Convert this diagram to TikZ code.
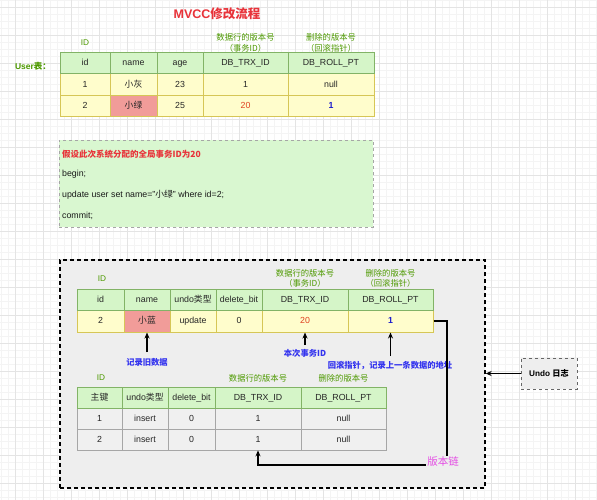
\documentclass[tikz,border=0pt]{standalone}
\usepackage{fontspec}
\setmainfont{Liberation Sans}
\newfontfamily\cjk{Noto Sans CJK SC}
\usetikzlibrary{arrows.meta}
\definecolor{hdfill}{HTML}{D5F5C8}
\definecolor{hdline}{HTML}{82B366}
\definecolor{yfill}{HTML}{FFFDCC}
\definecolor{yline}{HTML}{D6C656}
\definecolor{gfill}{HTML}{F0F0F0}
\definecolor{gline}{HTML}{A6A6A6}
\definecolor{pinkfill}{HTML}{F19C99}
\definecolor{labgreen}{HTML}{4D9900}
\definecolor{titlered}{HTML}{E8333A}
\definecolor{numred}{HTML}{E0401F}
\definecolor{numblue}{HTML}{1A1ACC}
\definecolor{labblue}{HTML}{3333EE}
\definecolor{boxgreen}{HTML}{D9F7D0}
\definecolor{boxgray}{HTML}{EEEEEE}
\definecolor{chainpink}{HTML}{E44CE4}
\definecolor{gridminor}{HTML}{F4F4F4}
\definecolor{gridmajor}{HTML}{E4E4E4}
\begin{document}
\begin{tikzpicture}[x=1pt,y=-1pt,
  cellfont/.style={font=\fontsize{8.8}{10}\selectfont, text=black!85, text height=6.6pt, text depth=1.6pt},
  hd/.style={draw=hdline, fill=hdfill, line width=1pt, inner sep=0pt, cellfont},
  yc/.style={draw=yline, fill=yfill, line width=1pt, inner sep=0pt, cellfont},
  gc/.style={draw=gline, fill=gfill, line width=0.8pt, inner sep=0pt, cellfont},
  glab/.style={text=labgreen, font=\fontsize{8.3}{10.5}\selectfont, align=center, inner sep=1pt},
  blab/.style={text=labblue, font=\bfseries\fontsize{8.3}{9}\selectfont, inner sep=2pt},
  txt/.style={anchor=west, font=\fontsize{8.8}{10}\selectfont, inner sep=0pt, text=black!90},
  arr/.style={-{Stealth[length=6pt,width=5pt]}, line width=1.3pt},
  minorline/.style={draw=gridminor, line width=0.4pt},
  majorline/.style={draw=gridmajor, line width=0.5pt}]
\useasboundingbox (0,0) rectangle (597,500);
\fill[white] (0,0) rectangle (597,500);
% grid
\foreach \x in {1,8,...,597} \draw[minorline] (\x,0) -- (\x,500);
\foreach \y in {0,7,...,500} \draw[minorline] (0,\y) -- (597,\y);
\foreach \x in {15,43,...,597} \draw[majorline] (\x,0) -- (\x,500);
\foreach \y in {7,35,...,500} \draw[majorline] (0,\y) -- (597,\y);

% title
\node[text=titlered, font=\bfseries\fontsize{12.5}{14}\selectfont] (title) at (217,14) {MVCC{\cjk 修改流程}};

% ---- top table ----
\node[text=labgreen, font=\bfseries\fontsize{8.5}{9}\selectfont] (usr) at (33,66) {User{\cjk 表：}};
\node[glab] (tid) at (85,43) {ID};
\node[glab] (ttrx) at (245.5,43) {\cjk 数据行的版本号\\\cjk （事务ID）};
\node[glab] (troll) at (331,43) {\cjk 删除的版本号\\\cjk （回滚指针）};

\begin{scope}[every node/.append style={minimum height=22}]
\node[yc, minimum width=50] (t21) at (85,85) {1};
\node[yc, minimum width=47] (t22) at (133.5,85) {\cjk 小灰};
\node[yc, minimum width=46] (t23) at (180,85) {23};
\node[yc, minimum width=85] (t24) at (245.5,85) {1};
\node[yc, minimum width=86] (t25) at (331,85) {null};
\end{scope}
\begin{scope}[every node/.append style={minimum height=21}]
\node[yc, minimum width=50] (t31) at (85,106.5) {2};
\node[yc, minimum width=47, fill=pinkfill] (t32) at (133.5,106.5) {\cjk 小绿};
\node[yc, minimum width=46] (t33) at (180,106.5) {25};
\node[yc, minimum width=85, text=numred] (t34) at (245.5,106.5) {20};
\node[yc, minimum width=86, text=numblue, font=\bfseries\fontsize{8.8}{10}\selectfont] (t35) at (331,106.5) {1};
\node[hd, minimum width=50] (t11) at (85,63.5) {id};
\node[hd, minimum width=47] (t12) at (133.5,63.5) {name};
\node[hd, minimum width=46] (t13) at (180,63.5) {age};
\node[hd, minimum width=85] (t14) at (245.5,63.5) {DB\_TRX\_ID};
\node[hd, minimum width=86] (t15) at (331,63.5) {DB\_ROLL\_PT};
\end{scope}

% ---- text box ----
\node[draw=gline, dashed, line width=0.8pt, fill=boxgreen, minimum width=314, minimum height=87, inner sep=0pt] (sql) at (216,183.5) {};
\node[txt, text=titlered, font=\bfseries\fontsize{8.5}{10}\selectfont] (tx1) at (62,154) {\cjk 假设此次系统分配的全局事务ID为20};
\node[txt] (tx2) at (62,174) {begin;};
\node[txt] (tx3) at (62,195) {update user set name="{\cjk 小绿}" where id=2;};
\node[txt] (tx4) at (62,216) {commit;};

% ---- big dashed box ----
\node[draw=black, dash pattern=on 4pt off 3pt, line width=1.3pt, fill=boxgray, minimum width=425, minimum height=228, inner sep=0pt] (big) at (272.5,374) {};

\node[glab] (mid) at (102,279) {ID};
\node[glab] (mtrx) at (305,278.5) {\cjk 数据行的版本号\\\cjk （事务ID）};
\node[glab] (mroll) at (390.5,278.5) {\cjk 删除的版本号\\\cjk （回滚指针）};

\begin{scope}[every node/.append style={minimum height=22}]
\node[yc, minimum width=47] (m21) at (100.5,321) {2};
\node[yc, minimum width=46, fill=pinkfill] (m22) at (147,321) {\cjk 小蓝};
\node[yc, minimum width=46] (m23) at (193,321) {update};
\node[yc, minimum width=46] (m24) at (239,321) {0};
\node[yc, minimum width=86, text=numred] (m25) at (305,321) {20};
\node[yc, minimum width=85, text=numblue, font=\bfseries\fontsize{8.8}{10}\selectfont] (m26) at (390.5,321) {1};
\end{scope}
\begin{scope}[every node/.append style={minimum height=21}]
\node[hd, minimum width=47] (m11) at (100.5,299.5) {id};
\node[hd, minimum width=46] (m12) at (147,299.5) {name};
\node[hd, minimum width=46] (m13) at (193,299.5) {undo{\cjk 类型}};
\node[hd, minimum width=46] (m14) at (239,299.5) {delete\_bit};
\node[hd, minimum width=86] (m15) at (305,299.5) {DB\_TRX\_ID};
\node[hd, minimum width=85] (m16) at (390.5,299.5) {DB\_ROLL\_PT};
\end{scope}

\node[blab] (l1) at (147,362) {\cjk\bfseries 记录旧数据};
\node[blab] (l2) at (305,353.5) {\cjk\bfseries 本次事务ID};
\node[blab] (l3) at (390,366) {\cjk\bfseries 回滚指针，记录上一条数据的地址};
\draw[arr] (147,352) -- (m22.south);
\draw[arr] (305,345) -- (m25.south);
\draw[arr] (390.5,356) -- (m26.south);

% ---- bottom table ----
\node[glab] (bid) at (101,378) {ID};
\node[glab] (btrx) at (258,378) {\cjk 数据行的版本号};
\node[glab] (broll) at (343.5,378) {\cjk 删除的版本号};

\begin{scope}[every node/.append style={minimum height=21}]
\node[gc, minimum width=45] (b21) at (99.5,418.5) {1};
\node[gc, minimum width=46] (b22) at (145,418.5) {insert};
\node[gc, minimum width=47] (b23) at (191.5,418.5) {0};
\node[gc, minimum width=86] (b24) at (258,418.5) {1};
\node[gc, minimum width=85] (b25) at (343.5,418.5) {null};
\node[gc, minimum width=45] (b31) at (99.5,439.5) {2};
\node[gc, minimum width=46] (b32) at (145,439.5) {insert};
\node[gc, minimum width=47] (b33) at (191.5,439.5) {0};
\node[gc, minimum width=86] (b34) at (258,439.5) {1};
\node[gc, minimum width=85] (b35) at (343.5,439.5) {null};
\node[hd, minimum width=45] (b11) at (99.5,397.5) {\cjk 主键};
\node[hd, minimum width=46] (b12) at (145,397.5) {undo{\cjk 类型}};
\node[hd, minimum width=47] (b13) at (191.5,397.5) {delete\_bit};
\node[hd, minimum width=86] (b14) at (258,397.5) {DB\_TRX\_ID};
\node[hd, minimum width=85] (b15) at (343.5,397.5) {DB\_ROLL\_PT};
\end{scope}

% version chain
\coordinate (c1) at (447,465);
\draw[arr] (m26.east) -| (c1) -| (b34.south);
\node[text=chainpink, fill=boxgray, font=\fontsize{10.5}{12}\selectfont, inner sep=1pt] (chain) at (443,462) {\cjk 版本链};

% undo log
\node[draw=black!60, dashed, line width=0.9pt, fill=boxgray, minimum width=56, minimum height=31, inner sep=0pt, font=\bfseries\fontsize{8.2}{9}\selectfont] (undo) at (549,373.5) {Undo {\cjk\bfseries 日志}};
\draw[arr] (undo.west) -- (big.east |- undo.west);
\end{tikzpicture}
\end{document}
